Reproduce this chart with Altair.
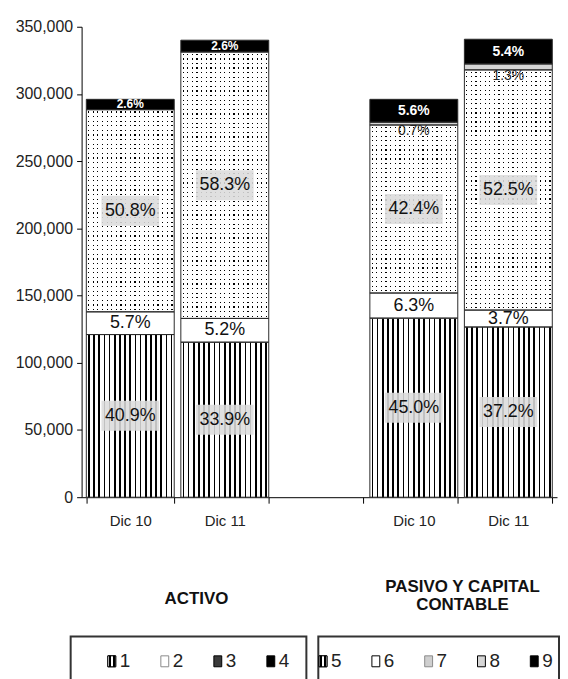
import altair as alt
import pandas as pd

# ---------------- data ----------------
x_slots = ["Dic 10|A", "Dic 11|A", "|", "Dic 10|P", "Dic 11|P"]
activo_segments = ["1", "2", "3", "4"]
pasivo_segments = ["5", "6", "7", "8", "9"]
activo_dic10 = [121000, 16900, 150400, 7700]
activo_dic11 = [115300, 17700, 198200, 8800]
pasivo_dic10 = [133200, 18700, 125000, 2100, 17000]
pasivo_dic11 = [126600, 12600, 178700, 4400, 18400]
activo_dic10_pct = ["40.9%", "5.7%", "50.8%", "2.6%"]
activo_dic11_pct = ["33.9%", "5.2%", "58.3%", "2.6%"]
pasivo_dic10_pct = ["45.0%", "6.3%", "42.4%", "0.7%", "5.6%"]
pasivo_dic11_pct = ["37.2%", "3.7%", "52.5%", "1.3%", "5.4%"]
y_ticks = [0, 50000, 100000, 150000, 200000, 250000, 300000, 350000]
title_activo = "ACTIVO"
title_pasivo = ["PASIVO Y CAPITAL", "CONTABLE"]

# ---------------- style ----------------
FONT = "Liberation Sans, Arial, sans-serif"
W, H = 489, 473
RANGE_MIN = 11
Y_MAX = 350000
KIND = {"1": "stripe", "5": "stripe", "2": "white", "6": "white",
        "3": "dots", "7": "dots", "8": "gray", "4": "black", "9": "black"}

bars = [
    (x_slots[0], activo_segments, activo_dic10, activo_dic10_pct),
    (x_slots[1], activo_segments, activo_dic11, activo_dic11_pct),
    (x_slots[3], pasivo_segments, pasivo_dic10, pasivo_dic10_pct),
    (x_slots[4], pasivo_segments, pasivo_dic11, pasivo_dic11_pct),
]
rows = []
for slot, segs, vals, pcts in bars:
    for i, (s, v, p) in enumerate(zip(segs, vals, pcts)):
        rows.append({"slot": slot, "seg": s, "order": i, "value": v,
                     "pct": p, "kind": KIND[s]})
df = pd.DataFrame(rows)


def lines_grad(n, frac, line, bg, horizontal=True):
    stops = []
    for i in range(n):
        a = (i + 0.5 - frac / 2) / n
        b = (i + 0.5 + frac / 2) / n
        stops += [{"offset": i / n, "color": bg}, {"offset": a, "color": bg},
                  {"offset": a, "color": line}, {"offset": b, "color": line},
                  {"offset": b, "color": bg}, {"offset": (i + 1) / n, "color": bg}]
    g = {"gradient": "linear", "stops": stops, "x1": 0, "y1": 0}
    if horizontal:
        g.update({"x2": 1, "y2": 0})
    else:
        g.update({"x2": 0, "y2": 1})
    return g


STRIPES = lines_grad(17, 0.32, "#000000", "#ffffff")
DOTCOLS = lines_grad(19, 0.26, "#000000", "#ffffff")

x_enc = alt.X("slot:N",
              scale=alt.Scale(domain=x_slots, paddingInner=0.07, paddingOuter=0.05,
                              rangeMin=RANGE_MIN),
              axis=alt.Axis(title=None, labelExpr="split(datum.label, '|')[0]",
                            labelAngle=0, labelFont=FONT, labelFontSize=15,
                            labelColor="#222222", tickBand="extent", tickSize=6,
                            tickColor="#000000", domainColor="#000000", labelPadding=10))
y_axis = alt.Axis(values=y_ticks, format=",.0f", labelFont=FONT, labelFontSize=16,
                  labelColor="#222222", domainColor="#000000", tickColor="#000000",
                  tickSize=5, labelPadding=4, grid=False, title=None, offset=-RANGE_MIN)
y_scale = alt.Scale(domain=[0, Y_MAX])

base = (alt.Chart(df)
        .transform_stack(stack="value", groupby=["slot"],
                         sort=[alt.SortField("order", order="ascending")],
                         as_=["y0", "y1"])
        .transform_calculate(ymid="(datum.y0 + datum.y1) / 2"))


def seg_bars(filt, **mark):
    return base.transform_filter(filt).mark_bar(**mark).encode(
        x=x_enc, y=alt.Y("y0:Q", scale=y_scale, axis=y_axis), y2="y1")


layers = [
    seg_bars("datum.kind == 'stripe'", fill=STRIPES, strokeWidth=0),
    seg_bars("datum.kind == 'white'", fill="#ffffff", strokeWidth=0),
    seg_bars("datum.kind == 'dots'", fill=DOTCOLS, strokeWidth=0),
]
for slot, segs, vals, pcts in bars:
    for s, v in zip(segs, vals):
        if KIND[s] == "dots":
            n_rows = max(1, round(v * H / Y_MAX / 4.6))
            mask = lines_grad(n_rows, 0.26, "rgba(255,255,255,0)", "#ffffff", horizontal=False)
            layers.append(seg_bars(f"datum.kind == 'dots' && datum.slot == '{slot}'",
                                   fill=mask, strokeWidth=0))
layers += [
    seg_bars("datum.kind == 'gray'", fill="#d6d6d6", strokeWidth=0),
    seg_bars("datum.kind == 'black'", fill="#000000", strokeWidth=0),
    seg_bars("true", fillOpacity=0, stroke="#2a2a2a", strokeWidth=1),
]

BOX_PATH = "M-1,-0.52L1,-0.52L1,0.52L-1,0.52Z"


def seg_marks(filt, mark_fn, yfield="ymid", **enc):
    ch = base.transform_filter(filt)
    return mark_fn(ch).encode(x=x_enc, y=alt.Y(f"{yfield}:Q", scale=y_scale, axis=y_axis), **enc)


layers.append(seg_marks("datum.kind == 'stripe' || datum.kind == 'dots'",
                        lambda c: c.mark_point(shape=BOX_PATH, size=3364, filled=True,
                                               fill="#dcdcdc", opacity=0.88, strokeWidth=0)))
layers.append(seg_marks("datum.kind == 'stripe' || datum.kind == 'dots' || datum.kind == 'white'",
                        lambda c: c.mark_text(font=FONT, fontSize=18, color="#111111",
                                              baseline="middle"), text="pct:N"))
layers.append(seg_marks("datum.seg == '4'",
                        lambda c: c.mark_text(font=FONT, fontSize=12, fontWeight="bold",
                                              color="#ffffff", baseline="middle"), text="pct:N"))
layers.append(seg_marks("datum.seg == '9'",
                        lambda c: c.mark_text(font=FONT, fontSize=14, fontWeight="bold",
                                              color="#ffffff", baseline="middle"), text="pct:N"))
layers.append(seg_marks("datum.kind == 'gray'",
                        lambda c: c.mark_text(font=FONT, fontSize=14, color="#222222",
                                              baseline="middle", dy=6), yfield="y0", text="pct:N"))

main = alt.layer(*layers).properties(width=W, height=H,
                                     view=alt.ViewBackground(stroke="transparent"))

# ---------------- legend panels ----------------
SW_PATH = "M-0.72,-1L0.72,-1L0.72,1L-0.72,1Z"
sw_items = activo_segments + pasivo_segments
sw_fill = ["#ffffff", "#ffffff", "#3a3a3a", "#000000", "#ffffff", "#ffffff",
           "#cfcfcf", "#d6d6d6", "#000000"]
sw_stroke = ["#000000", "#8a8a8a", "#000000", "#000000", "#000000", "#000000",
             "#8a8a8a", "#000000", "#000000"]
SW_STRIPES = lines_grad(2, 0.4, "#000000", "#ffffff")
LEG_H = 50


def legend_panel(items, width, pad, align, title):
    src = alt.Chart(pd.DataFrame({"item": items}))
    xs = alt.X("item:N", scale=alt.Scale(type="point", domain=items, padding=pad, align=align),
               axis=None)
    sw = src.mark_point(shape=SW_PATH, size=121, filled=True, strokeWidth=1, opacity=1,
                        xOffset=-8).encode(
        x=xs,
        fill=alt.Fill("item:N", scale=alt.Scale(domain=sw_items, range=sw_fill), legend=None),
        stroke=alt.Stroke("item:N", scale=alt.Scale(domain=sw_items, range=sw_stroke),
                          legend=None))
    sw_s = (src.transform_filter(alt.FieldOneOfPredicate(field="item", oneOf=["1", "5"]))
            .mark_point(shape=SW_PATH, size=121, filled=True, fill=SW_STRIPES,
                        stroke="#000000", strokeWidth=1, opacity=1, xOffset=-8)
            .encode(x=xs))
    txt = src.mark_text(align="left", baseline="middle", font=FONT, fontSize=19,
                        color="#222222").encode(x=xs, text="item:N")
    return alt.layer(sw, sw_s, txt).properties(
        width=width, height=LEG_H, title=title,
        view=alt.ViewBackground(stroke="#333333", strokeWidth=2))


legA = legend_panel(activo_segments, 237, 0.723, 0.64,
                    alt.TitleParams(text=title_activo, font=FONT, fontSize=17,
                                    fontWeight="bold", anchor="middle", offset=12,
                                    baseline="bottom", color="#111111", dx=8))
legB = legend_panel(pasivo_segments, 242, 0.279, 0.43,
                    alt.TitleParams(text=title_pasivo, font=FONT, fontSize=17,
                                    fontWeight="bold", anchor="middle", offset=6,
                                    baseline="bottom", lineHeight=18, color="#111111",
                                    dx=24))

chart = alt.vconcat(main, alt.hconcat(legA, legB, spacing=8), spacing=48).properties(
    padding={"left": 6, "top": 8, "right": 0, "bottom": 0})

chart.save("out.html", embed_options={"renderer": "svg", "actions": False})
